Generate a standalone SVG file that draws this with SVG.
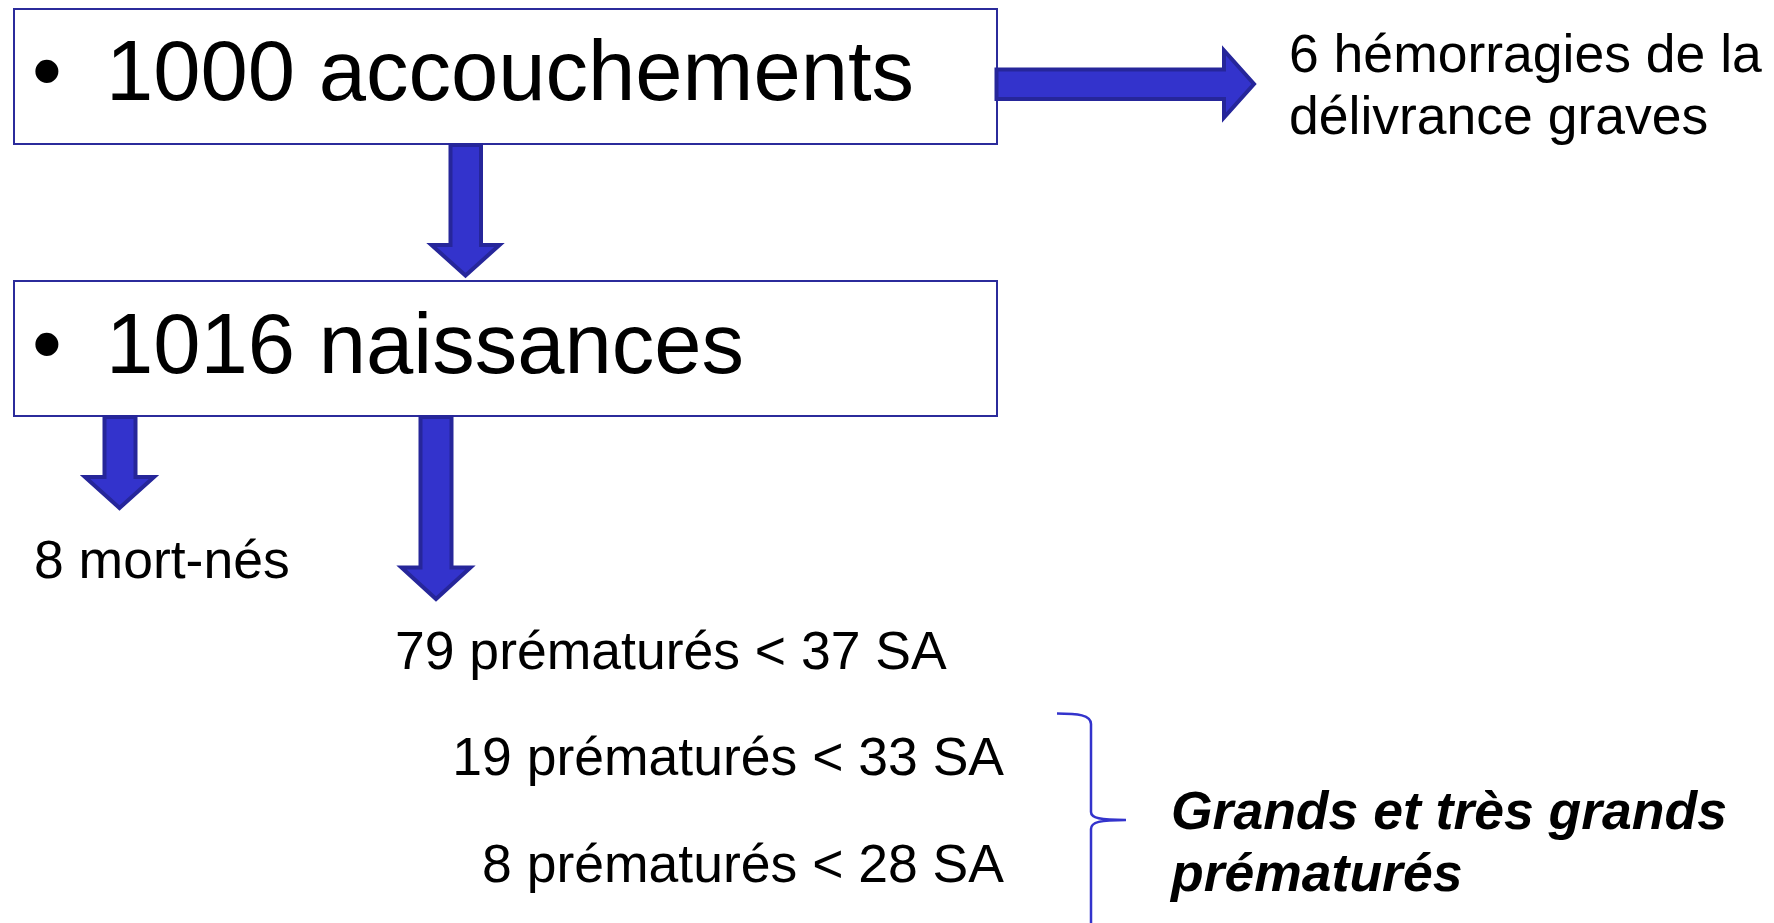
<svg xmlns="http://www.w3.org/2000/svg" width="1774" height="923" viewBox="0 0 1774 923">
  <style>
    .box { fill: #FFFFFF; stroke: #2B2B9B; stroke-width: 2; }
    .big { font-family: "Liberation Sans", Arial, sans-serif; font-size: 85px; fill: #000000; }
    .txt { font-family: "Liberation Sans", Arial, sans-serif; font-size: 53.5px; fill: #000000; }
    .bi { font-family: "Liberation Sans", Arial, sans-serif; font-size: 53.5px; font-weight: bold; font-style: italic; fill: #000000; }
    .arrow { fill: #3333CC; stroke: #26269A; stroke-width: 4; stroke-linejoin: miter; }
    .brace { fill: none; stroke: #3333CC; stroke-width: 2.5; }
  </style>
  <rect width="1774" height="923" fill="#FFFFFF"/>

  <g id="node-accouchements">
    <rect class="box" x="14" y="9" width="983" height="135"/>
    <text class="big" x="32" y="100">•</text>
    <text class="big" x="106" y="100">1000 accouchements</text>
  </g>

  <g id="node-naissances">
    <rect class="box" x="14" y="281" width="983" height="135"/>
    <text class="big" x="32" y="373">•</text>
    <text class="big" x="106" y="373">1016 naissances</text>
  </g>

  <g id="node-hemorragies">
    <text class="txt" x="1289" y="71.5">6 hémorragies de la</text>
    <text class="txt" x="1289" y="133.5">délivrance graves</text>
  </g>

  <g id="node-mortnes">
    <text class="txt" x="34" y="578">8 mort-nés</text>
  </g>

  <g id="node-prem37">
    <text class="txt" x="395" y="669">79 prématurés &lt; 37 SA</text>
  </g>

  <g id="node-prem33">
    <text class="txt" x="1004" y="775" text-anchor="end">19 prématurés &lt; 33 SA</text>
  </g>

  <g id="node-prem28">
    <text class="txt" x="1004" y="882" text-anchor="end">8 prématurés &lt; 28 SA</text>
  </g>

  <g id="node-brace">
    <path class="brace" d="M1057,713.5 C1078,713.5 1091,715 1091,724 L1091,812 C1091,818 1100,820 1126,820 C1100,820 1091,822 1091,829 L1091,923"/>
  </g>

  <g id="node-grands">
    <text class="bi" x="1171" y="829">Grands et très grands</text>
    <text class="bi" x="1171" y="891">prématurés</text>
  </g>

  <g id="connectors">
    <path class="arrow" d="M996.5,69.5 H1224 V50.5 L1254,84 L1224,117.5 V99 H996.5 Z"/>
    <path class="arrow" d="M450.5,145 V245 H431.5 L465.5,275.5 L499.5,245 H481 V145 Z"/>
    <path class="arrow" d="M104.5,417 V477 H85 L119.5,508 L154,477 H135.5 V417 Z"/>
    <path class="arrow" d="M420.5,417 V567.5 H401.5 L436,599 L470.5,567.5 H451.5 V417 Z"/>
  </g>
</svg>
